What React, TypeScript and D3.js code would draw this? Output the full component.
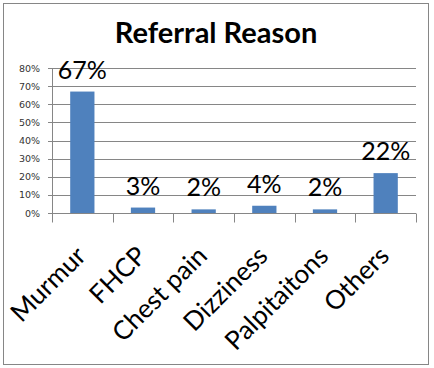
import React, { useRef, useEffect } from 'react';
import * as d3 from 'd3';

const categories = ['Murmur', 'FHCP', 'Chest pain', 'Dizziness', 'Palpitaitons', 'Others'];
const values = [67, 3, 2, 4, 2, 22];
const yTicks = [0, 10, 20, 30, 40, 50, 60, 70, 80];

const App = () => {
    const chartRef = useRef<SVGSVGElement>(null);

    useEffect(() => {
        const width = 434;
        const height = 368;
        const margin = { left: 52, right: 18, top: 68, bottom: 155 };

        const svg = d3.select(chartRef.current);
        svg.selectAll('*').remove();
        svg.attr('width', width).attr('height', height);

        svg.append('rect')
            .attr('x', 0).attr('y', 0)
            .attr('width', width).attr('height', height)
            .attr('fill', '#fff');

        // outer frame
        svg.append('rect')
            .attr('x', 3.5).attr('y', 3.5)
            .attr('width', 425).attr('height', 361)
            .attr('fill', 'none')
            .attr('stroke', '#868686');

        svg.append('text')
            .attr('x', 216)
            .attr('y', 43)
            .attr('text-anchor', 'middle')
            .style('font-family', 'Lato, "Open Sans", sans-serif')
            .style('font-weight', 'bold')
            .style('font-size', '29px')
            .text('Referral Reason');

        const x = d3.scaleBand()
            .domain(categories)
            .range([margin.left, width - margin.right])
            .paddingInner(0.6)
            .paddingOuter(0.3);

        const y = d3.scaleLinear()
            .domain([0, 80])
            .range([height - margin.bottom, margin.top]);

        const y0 = Math.round(y(0)) + 0.5;

        // gridlines
        svg.append('g')
            .selectAll('line')
            .data(yTicks.slice(1))
            .enter().append('line')
            .attr('x1', margin.left)
            .attr('x2', width - margin.right)
            .attr('y1', d => Math.round(y(d)) + 0.5)
            .attr('y2', d => Math.round(y(d)) + 0.5)
            .attr('stroke', '#868686');

        // y axis
        const yAxis = svg.append('g');
        yAxis.append('line')
            .attr('x1', margin.left + 0.5).attr('x2', margin.left + 0.5)
            .attr('y1', y(80)).attr('y2', y0)
            .attr('stroke', '#868686');
        yAxis.selectAll('line.tick')
            .data(yTicks)
            .enter().append('line')
            .attr('class', 'tick')
            .attr('x1', margin.left - 4).attr('x2', margin.left)
            .attr('y1', d => Math.round(y(d)) + 0.5)
            .attr('y2', d => Math.round(y(d)) + 0.5)
            .attr('stroke', '#868686');
        yAxis.selectAll('text')
            .data(yTicks)
            .enter().append('text')
            .attr('x', margin.left - 12)
            .attr('y', d => y(d) + 3.5)
            .attr('text-anchor', 'end')
            .style('font-family', '"DejaVu Sans", sans-serif')
            .style('font-size', '9.5px')
            .attr('fill', '#333')
            .text(d => d + '%');

        // x axis
        const bounds = categories.map((c, i) => margin.left + i * (width - margin.right - margin.left) / categories.length);
        bounds.push(width - margin.right);
        svg.append('line')
            .attr('x1', margin.left).attr('x2', width - margin.right)
            .attr('y1', y0).attr('y2', y0)
            .attr('stroke', '#868686');
        svg.append('g')
            .selectAll('line')
            .data(bounds)
            .enter().append('line')
            .attr('x1', d => Math.round(d) + 0.5)
            .attr('x2', d => Math.round(d) + 0.5)
            .attr('y1', y0).attr('y2', y0 + 9)
            .attr('stroke', '#868686');

        // bars
        svg.append('g')
            .selectAll('rect')
            .data(values)
            .enter().append('rect')
            .attr('x', (d, i) => x(categories[i]))
            .attr('y', d => y(d))
            .attr('width', x.bandwidth())
            .attr('height', d => y(0) - y(d))
            .attr('fill', '#4f81bd');

        // data labels
        svg.append('g')
            .selectAll('text')
            .data(values)
            .enter().append('text')
            .attr('x', (d, i) => x(categories[i]) + x.bandwidth() / 2)
            .attr('y', d => y(d) - 13)
            .attr('text-anchor', 'middle')
            .style('font-family', 'Lato, "Open Sans", sans-serif')
            .style('font-size', '25px')
            .attr('fill', '#000')
            .text(d => d + '%');

        // category labels
        svg.append('g')
            .selectAll('text')
            .data(categories)
            .enter().append('text')
            .attr('transform', d => {
                const cx = x(d) + x.bandwidth() / 2 + 5;
                const cy = y0 + 44;
                return `translate(${cx},${cy}) rotate(-45)`;
            })
            .attr('text-anchor', 'end')
            .style('font-family', 'Lato, "Open Sans", sans-serif')
            .style('font-size', '26px')
            .attr('fill', '#000')
            .text(d => d);
    }, []);

    return (
        <div style={{ position: 'absolute', left: 0, top: 0 }}>
            <svg ref={chartRef} style={{ display: 'block' }}></svg>
        </div>
    );
};

export default App;
